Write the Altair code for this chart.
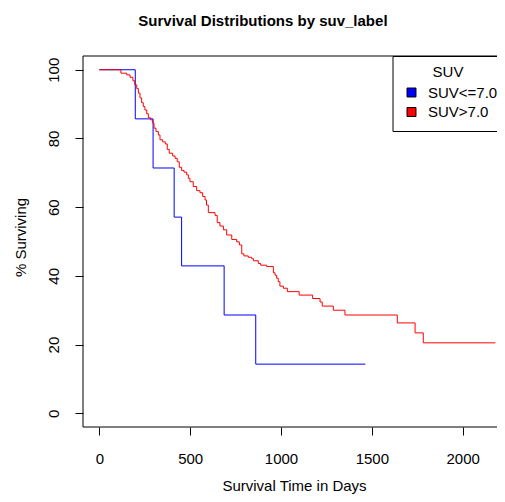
import altair as alt
import pandas as pd

FONT = "Liberation Sans"

# Kaplan-Meier step data
blue_label = "SUV<=7.0"
blue_times = [0, 198, 296, 412, 453, 687, 861, 1464]
blue_surv = [100, 85.7, 71.4, 57.1, 42.9, 28.6, 14.3, 14.3]

red_label = "SUV>7.0"
red_times = [0, 119, 151, 169, 185, 195, 206, 215, 224, 233,
             242, 251, 261, 270, 283, 294, 301, 312, 325, 334,
             349, 363, 374, 385, 404, 417, 429, 440, 453, 466,
             481, 490, 499, 517, 536, 554, 569, 582, 590, 600,
             637, 649, 664, 683, 701, 729, 756, 771, 784, 796,
             820, 839, 848, 875, 888, 921, 958, 967, 976, 985,
             994, 1013, 1035, 1100, 1174, 1215, 1227, 1288, 1352, 1640,
             1738, 1783, 2180]
red_surv = [100, 99.0, 98.5, 97.8, 96.8, 95.6, 94.5, 93.2, 91.8, 90.4,
            89.3, 88.3, 87.2, 86.0, 85.4, 84.5, 83.0, 82.0, 81.0, 79.6,
            79.0, 78.4, 76.8, 75.7, 74.9, 74.2, 73.2, 71.6, 70.7, 70.2,
            69.4, 68.4, 67.4, 66.0, 64.8, 64.2, 63.1, 62.1, 60.6, 58.4,
            57.6, 55.5, 54.5, 53.4, 51.9, 50.6, 49.9, 49.0, 46.4, 45.8,
            45.4, 45.0, 44.4, 43.6, 43.1, 42.7, 40.9, 40.2, 39.3, 38.3,
            37.0, 36.4, 35.4, 34.4, 33.4, 32.4, 31.2, 30.0, 28.6, 26.3,
            23.4, 20.5, 20.5]

x_ticks = [0, 500, 1000, 1500, 2000]
y_ticks = [0, 20, 40, 60, 80, 100]
groups = [blue_label, red_label]
colors = ["#0000FF", "#FF0000"]

title_text = "Survival Distributions by suv_label"
x_title = "Survival Time in Days"
y_title = "% Surviving"
legend_title = "SUV"

rows = []
for lab, ts, ss in [(blue_label, blue_times, blue_surv), (red_label, red_times, red_surv)]:
    for i, (t, s) in enumerate(zip(ts, ss)):
        rows.append({"time": t, "surv": s, "group": lab, "ord": i})
df = pd.DataFrame(rows)

W, H = 414, 371

lines = alt.Chart(df).mark_line(interpolate="step-after", strokeWidth=1, clip=True).encode(
    x=alt.X("time:Q",
            scale=alt.Scale(domain=[-89.7, 2188.8], nice=False, zero=False),
            axis=alt.Axis(values=x_ticks, format="d", title=x_title, grid=False, domain=False,
                          tickSize=8, tickColor="black", labelColor="black",
                          labelFontSize=15, labelFont=FONT, labelPadding=28,
                          labelBaseline="alphabetic", labelFlush=False,
                          titleFontSize=15, titleFont=FONT, titleFontWeight="normal",
                          titleColor="black", titleY=63.5, titleX=211,
                          titleBaseline="alphabetic", titleAlign="center")),
    y=alt.Y("surv:Q",
            scale=alt.Scale(domain=[-4, 104], nice=False, zero=False),
            axis=alt.Axis(values=y_ticks, format="d", title=y_title, grid=False, domain=False,
                          tickSize=8, tickColor="black", labelColor="black",
                          labelFontSize=15, labelFont=FONT, labelAngle=270,
                          labelAlign="center", labelBaseline="alphabetic",
                          labelPadding=17, labelFlush=False,
                          titleFontSize=15, titleFont=FONT, titleFontWeight="normal",
                          titleColor="black", titleAngle=270, titleX=-57.5, titleY=181,
                          titleAlign="center", titleBaseline="alphabetic")),
    color=alt.Color("group:N", scale=alt.Scale(domain=groups, range=colors), legend=None),
    detail="group:N",
    order="ord:Q",
)

one = pd.DataFrame({"k": [0]})

frame_top = alt.Chart(one).mark_rule(color="black", strokeWidth=1).encode(
    x=alt.value(0), x2=alt.value(W + 5), y=alt.value(0))
frame_bottom = alt.Chart(one).mark_rule(color="black", strokeWidth=1).encode(
    x=alt.value(0), x2=alt.value(W + 5), y=alt.value(H))
frame_left = alt.Chart(one).mark_rule(color="black", strokeWidth=1).encode(
    x=alt.value(0), y=alt.value(0), y2=alt.value(H))

legend_box = alt.Chart(one).mark_rect(fill="white", stroke="black", strokeWidth=1).encode(
    x=alt.value(310), x2=alt.value(W + 5), y=alt.value(0.5), y2=alt.value(75.5)
)
legend_ttl = alt.Chart(one).mark_text(text=legend_title, font=FONT, fontSize=15,
                                      color="black", align="center", baseline="middle").encode(
    x=alt.value(365), y=alt.value(16)
)

layers = [lines, frame_top, frame_bottom, frame_left, legend_box, legend_ttl]
for i, (lab, col) in enumerate(zip(groups, colors)):
    yy = 36.5 + i * 19.5
    layers.append(alt.Chart(one).mark_square(size=80, fill=col, stroke="black",
                                             strokeWidth=1, opacity=1).encode(
        x=alt.value(328.5), y=alt.value(yy)))
    layers.append(alt.Chart(one).mark_text(text=lab, font=FONT, fontSize=15, color="black",
                                           align="left", baseline="middle").encode(
        x=alt.value(345), y=alt.value(yy)))

main_title = alt.Chart(one).mark_text(text=title_text, font=FONT, fontSize=15,
                                      fontWeight="bold", color="black",
                                      align="left", baseline="alphabetic").encode(
    x=alt.value(55.3), y=alt.value(-30)
)
layers.append(main_title)

chart = alt.layer(*layers).properties(
    width=W, height=H,
    padding={"left": 75, "top": 48, "right": 0, "bottom": 67},
    autosize=alt.AutoSizeParams(type="none"),
    background="white",
).configure_view(strokeOpacity=0)

chart.save("out.html", embed_options={"renderer": "svg", "actions": False})
